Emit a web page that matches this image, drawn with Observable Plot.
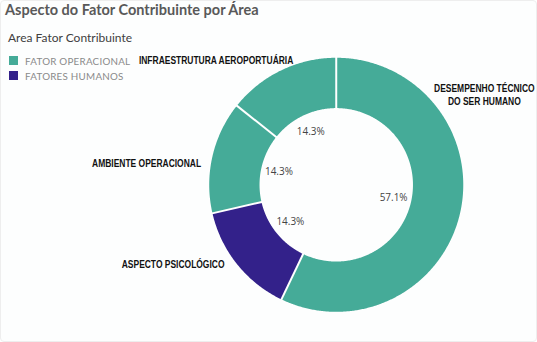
<!DOCTYPE html>
<html>
<head>
<meta charset="utf-8">
<script src="https://cdn.jsdelivr.net/npm/d3@7"></script>
<script src="https://cdn.jsdelivr.net/npm/@observablehq/plot@0.6"></script>
<style>
  html, body { margin: 0; padding: 0; background: #fff; }
  #wrap { position: relative; width: 537px; height: 342px; overflow: hidden; box-sizing: border-box; border: 1px solid #eeeeee; border-radius: 4px; background: #fdfefe; }
  #title { position: absolute; left: 4px; top: 0px; font: bold 14.5px Lato, "Open Sans", sans-serif; color: #595959; white-space: nowrap; }
  #legend { position: absolute; left: 7px; top: 29px; font-family: Lato, "Open Sans", sans-serif; }
  #legend .lt { font-size: 12px; color: #404040; margin-bottom: 8px; }
  #legend .it { display: flex; align-items: center; height: 15px; font-size: 9.8px; color: #8a8a8a; letter-spacing: 0.25px; }
  #legend .sw { width: 9px; height: 9px; margin: 0 7px 0 1px; }
  #chart { position: absolute; left: 0; top: 0; }
</style>
</head>
<body>
<div id="wrap">
  <div id="chart"></div>
  <div id="title"></div>
  <div id="legend"></div>
</div>
<script>
// ---- data ----
const categories = ["DESEMPENHO TÉCNICO DO SER HUMANO", "ASPECTO PSICOLÓGICO", "AMBIENTE OPERACIONAL", "INFRAESTRUTURA AEROPORTUÁRIA"];
const groups = ["FATOR OPERACIONAL", "FATORES HUMANOS", "FATOR OPERACIONAL", "FATOR OPERACIONAL"];
const shares = [57.1, 14.3, 14.3, 14.3];
const legendGroups = ["FATOR OPERACIONAL", "FATORES HUMANOS"];
const legendColors = ["#45ab98", "#33218a"];
const titleText = "Aspecto do Fator Contribuinte por Área";
const legendTitle = "Area Fator Contribuinte";

// ---- layout ----
const W = 537, H = 342;
const cx = 336, cy = 184, Rpx = 127.5; // centre and outer radius in pixels
const innerR = 0.604;

const rows = categories.map((c, i) => ({name: c, group: groups[i], value: shares[i]}));
const arcs = d3.pie().sort(null).value(d => d.value)(rows);

// polygon points for each slice (unit radius, y up)
const pts = [];
arcs.forEach(a => {
  const n = Math.max(8, Math.ceil((a.endAngle - a.startAngle) / (Math.PI / 360)));
  for (let k = 0; k <= n; k++) {
    const t = a.startAngle + (a.endAngle - a.startAngle) * k / n;
    pts.push({name: a.data.name, group: a.data.group, x: Math.sin(t), y: Math.cos(t)});
  }
  for (let k = n; k >= 0; k--) {
    const t = a.startAngle + (a.endAngle - a.startAngle) * k / n;
    pts.push({name: a.data.name, group: a.data.group, x: innerR * Math.sin(t), y: innerR * Math.cos(t)});
  }
});
const seps = arcs.map(a => ({
  x1: innerR * Math.sin(a.startAngle) * 0.98, y1: innerR * Math.cos(a.startAngle) * 0.98,
  x2: Math.sin(a.startAngle) * 1.02, y2: Math.cos(a.startAngle) * 1.02
}));
const mids = arcs.map(a => {
  const m = (a.startAngle + a.endAngle) / 2;
  return {name: a.data.name, value: a.data.value, m,
    ix: 0.463 * Math.sin(m), iy: 0.463 * Math.cos(m),
    ox: 1.067 * Math.sin(m), oy: 1.067 * Math.cos(m)};
});
const lab = name => mids.filter(d => d.name === name);

const fmt = v => v.toFixed(1) + "%";
const outFont = {fontFamily: "'Liberation Sans', Arial, sans-serif", fontWeight: "bold", fontSize: 10.5, fill: "#111"};

const plot = Plot.plot({
  width: W, height: H,
  margin: 0,
  x: {domain: [-cx / Rpx, (W - cx) / Rpx], axis: null},
  y: {domain: [-(H - cy) / Rpx, cy / Rpx], axis: null},
  color: {domain: legendGroups, range: legendColors},
  style: {background: "transparent", overflow: "visible"},
  marks: [
    Plot.line(pts, {x: "x", y: "y", z: "name", fill: "group", stroke: "none", curve: "linear"}),
    Plot.link(seps, {x1: "x1", y1: "y1", x2: "x2", y2: "y2", stroke: "#ffffff", strokeWidth: 2}),
    Plot.text(mids, {x: "ix", y: "iy", text: d => fmt(d.value), fontSize: 10, fill: "#444", fontFamily: "'Open Sans', Lato, sans-serif"}),
    Plot.text(lab(categories[3]), {x: "ox", y: "oy", text: "name", textAnchor: "end", dx: 16, dy: -2, ...outFont}),
    Plot.text(lab(categories[2]), {x: "ox", y: "oy", text: "name", textAnchor: "end", dx: -3, dy: 9, ...outFont}),
    Plot.text(lab(categories[1]), {x: "ox", y: "oy", text: "name", textAnchor: "end", dx: -6, dy: -5, ...outFont}),
    Plot.text(lab(categories[0]), {x: "ox", y: "oy", text: () => "DESEMPENHO TÉCNICO\nDO SER HUMANO", textAnchor: "middle", lineHeight: 1.25, dx: 16, dy: -121, ...outFont})
  ]
});
// narrow (Arial-Narrow-like) rendering of the bold category labels
plot.querySelectorAll("g[font-weight='bold'] text").forEach(t => {
  const tr = t.getAttribute("transform") || "";
  t.setAttribute("transform", tr + " scale(0.81,1)");
});
document.getElementById("chart").appendChild(plot);

document.getElementById("title").textContent = titleText;
const lg = document.getElementById("legend");
const lt = document.createElement("div"); lt.className = "lt"; lt.textContent = legendTitle; lg.appendChild(lt);
legendGroups.forEach((g, i) => {
  const it = document.createElement("div"); it.className = "it";
  const sw = document.createElement("span"); sw.className = "sw"; sw.style.background = legendColors[i];
  const tx = document.createElement("span"); tx.textContent = g;
  it.appendChild(sw); it.appendChild(tx); lg.appendChild(it);
});
</script>
</body>
</html>
